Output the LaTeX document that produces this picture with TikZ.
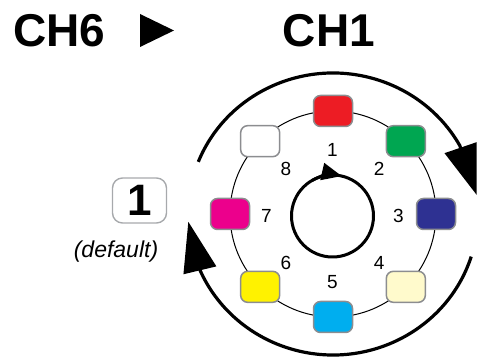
\documentclass[tikz,border=0pt]{standalone}
\usepackage{fontspec}
\setmainfont{Liberation Sans}
\usepackage{tikz}
\usetikzlibrary{arrows.meta,calc,positioning}
\definecolor{portred}{HTML}{ED1C24}
\definecolor{portgreen}{HTML}{00A651}
\definecolor{portblue}{HTML}{2E3192}
\definecolor{portcream}{HTML}{FFFACC}
\definecolor{portcyan}{HTML}{00AEEF}
\definecolor{portyellow}{HTML}{FFF200}
\definecolor{portmagenta}{HTML}{EC008C}
\definecolor{portwhite}{HTML}{FFFFFF}
\definecolor{portgray}{HTML}{8C8D90}
\definecolor{boxgray}{HTML}{A7A9AC}

\begin{document}
\begin{tikzpicture}[x=1pt,y=1pt,
	port node/.style={rectangle,rounded corners=7pt,draw=portgray,line width=1.5pt,
		minimum width=39pt,minimum height=31pt,inner sep=0pt},
	num node/.style={font=\fontsize{19}{19}\selectfont},
	title node/.style={font=\fontsize{46}{46}\bfseries\selectfont,anchor=base},
	default node/.style={rectangle,rounded corners=10pt,draw=boxgray,line width=1.4pt,
		minimum width=54pt,minimum height=45pt,inner sep=0pt,font=\fontsize{44}{44}\bfseries\selectfont},
	big arrow/.style={line width=3.2pt,-{Triangle[length=50pt,width=33pt]}}]

	\useasboundingbox (0,0) rectangle (477,358);
	\coordinate (c) at (333,144);
	\coordinate (ci) at (332.5,142);
	\coordinate (rtip) at (476.7,163);
	\coordinate (ltip) at (188.3,136.3);

	% titles
	\node[title node] (ch6) at (59.5,311) {CH6};
	\fill (140,344) -- (174,327.5) -- (140,311) -- cycle;
	\node[title node] (ch1) at (329,311) {CH1};

	% default position
	\node[default node] (dflt) at (139.5,157.5) {1};
	\node[font=\fontsize{23}{23}\itshape\selectfont] (dlabel) at (116,106) {(default)};

	% ring of ports
	\draw[line width=1pt] (c) circle (103);
	\foreach \i/\a/\col in {1/90/portred,2/45/portgreen,3/0/portblue,4/-45/portcream,
		5/-90/portcyan,6/-135/portyellow,7/180/portmagenta,8/135/portwhite}
	{
		\node[port node,fill=\col] (p\i) at ($(c)+(\a:103)$) {};
		\node[num node] (n\i) at ($(ci)+(\a:66)$) {\i};
	}

	% inner rotation
	\draw[line width=3pt] (ci) circle (41);
	\draw[line width=3pt,-{Triangle[length=20pt,width=17pt]}]
		($(ci)+(120:41)$) arc[start angle=120,end angle=77,radius=41];

	% outer rotation
	\draw[big arrow] ($(c)+(158.3:145 and 141)$)
		arc[start angle=158.3,end angle=29,x radius=145,y radius=141] -- (rtip);
	\draw[big arrow] ($(c)+(-17.6:145 and 141)$)
		arc[start angle=-17.6,end angle=-156.8,x radius=145,y radius=141] -- (ltip);

\end{tikzpicture}
\end{document}
